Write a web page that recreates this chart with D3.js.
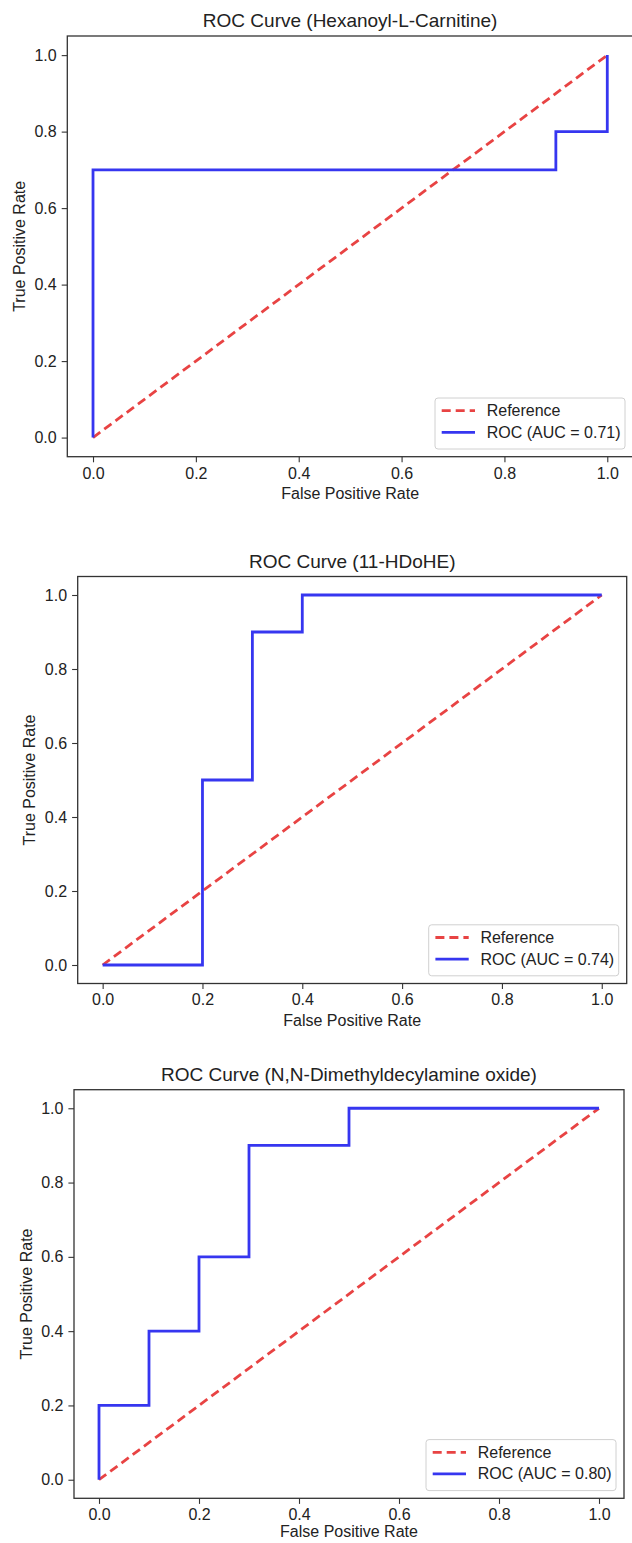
<!DOCTYPE html>
<html>
<head>
<meta charset="utf-8">
<script src="https://cdn.jsdelivr.net/npm/d3@7"></script>
<style>
  body { margin: 0; background: #fff; }
  svg { display: block; }
  text { font-family: "Liberation Sans", Arial, Helvetica, sans-serif; fill: #222; }
</style>
</head>
<body>
<div id="chart"></div>
<script>
// ROC data
var titles = ["ROC Curve (Hexanoyl-L-Carnitine)", "ROC Curve (11-HDoHE)", "ROC Curve (N,N-Dimethyldecylamine oxide)"];
var aucLabels = ["ROC (AUC = 0.71)", "ROC (AUC = 0.74)", "ROC (AUC = 0.80)"];

var fpr1 = [0, 0, 0.9, 0.9, 1.0, 1.0];
var tpr1 = [0, 0.7, 0.7, 0.8, 0.8, 1.0];

var fpr2 = [0, 0.2, 0.2, 0.3, 0.3, 0.4, 0.4, 1.0];
var tpr2 = [0, 0, 0.5, 0.5, 0.9, 0.9, 1.0, 1.0];

var fpr3 = [0, 0, 0.1, 0.1, 0.2, 0.2, 0.3, 0.3, 0.5, 0.5, 1.0];
var tpr3 = [0, 0.2, 0.2, 0.4, 0.4, 0.6, 0.6, 0.9, 0.9, 1.0, 1.0];

var refLine = [0, 1];
var tickVals = [0, 0.2, 0.4, 0.6, 0.8, 1.0];

// pixel boxes of each axes area (left, right, top, bottom)
var boxes = [
  {l: 67.3, r: 633, t: 36, b: 456.7},
  {l: 77.7, r: 626.7, t: 576.5, b: 983.5},
  {l: 74, r: 624, t: 1089.7, b: 1498.3}
];
var ylabX = [20, 30, 27];

var W = 632, H = 1543;
var svg = d3.select("#chart").append("svg").attr("width", W).attr("height", H);

var blue = "#3636f0", red = "#e84343";

function drawPanel(i, fpr, tpr) {
  var bx = boxes[i];
  var x = d3.scaleLinear().domain([-0.05, 1.05]).range([bx.l, bx.r]);
  var y = d3.scaleLinear().domain([-0.05, 1.05]).range([bx.b, bx.t]);
  var g = svg.append("g").attr("class", "panel" + i);

  // curves
  var line = d3.line().x(function(d) { return x(d[0]); }).y(function(d) { return y(d[1]); });
  g.append("path").datum(refLine.map(function(v) { return [v, v]; }))
    .attr("d", line).attr("fill", "none").attr("stroke", red)
    .attr("stroke-width", 2.8).attr("stroke-dasharray", "9,5");
  g.append("path").datum(fpr.map(function(v, k) { return [v, tpr[k]]; }))
    .attr("d", line).attr("fill", "none").attr("stroke", blue)
    .attr("stroke-width", 2.8).attr("stroke-linejoin", "miter");

  // axes
  var xa = g.append("g").attr("transform", "translate(0," + bx.b + ")")
    .call(d3.axisBottom(x).tickValues(tickVals).tickFormat(d3.format(".1f")).tickSizeOuter(0).tickSize(5.6).tickPadding(5));
  var ya = g.append("g").attr("transform", "translate(" + bx.l + ",0)")
    .call(d3.axisLeft(y).tickValues(tickVals).tickFormat(d3.format(".1f")).tickSizeOuter(0).tickSize(5.6).tickPadding(5));
  [xa, ya].forEach(function(a) {
    a.select(".domain").remove();
    a.selectAll(".tick line").attr("stroke", "#333").attr("stroke-width", 1.1);
    a.selectAll(".tick text").style("font-size", "16px").attr("fill", "#222")
      .style("font-family", '"Liberation Sans", Arial, sans-serif');
  });

  g.append("rect").attr("x", bx.l).attr("y", bx.t).attr("width", bx.r - bx.l).attr("height", bx.b - bx.t)
    .attr("fill", "none").attr("stroke", "#333").attr("stroke-width", 1.3);

  // labels
  g.append("text").attr("x", (bx.l + bx.r) / 2).attr("y", bx.t - 9).attr("text-anchor", "middle")
    .style("font-size", "19px").text(titles[i]);
  g.append("text").attr("x", (bx.l + bx.r) / 2).attr("y", Math.min(bx.b + 42, H - 6)).attr("text-anchor", "middle")
    .style("font-size", "16px").text("False Positive Rate");
  g.append("text").attr("transform", "translate(" + (ylabX[i] + 5) + "," + ((bx.t + bx.b) / 2) + ") rotate(-90)")
    .attr("text-anchor", "middle").style("font-size", "16px").text("True Positive Rate");

  // legend, lower right
  var lw = 190, lh = 51;
  var lx = bx.r - 8 - lw, ly = bx.b - 7.7 - lh;
  var leg = g.append("g").attr("transform", "translate(" + lx + "," + ly + ")");
  leg.append("rect").attr("width", lw).attr("height", lh).attr("rx", 3)
    .attr("fill", "rgba(255,255,255,0.85)").attr("stroke", "#d0d0d0").attr("stroke-width", 1);
  var items = [{label: "Reference", color: red, dash: "9,5"}, {label: aucLabels[i], color: blue, dash: null}];
  items.forEach(function(it, k) {
    var yy = 12.7 + k * 21.6;
    leg.append("line").attr("x1", 6.7).attr("x2", 40).attr("y1", yy).attr("y2", yy)
      .attr("stroke", it.color).attr("stroke-width", 2.8).attr("stroke-dasharray", it.dash);
    leg.append("text").attr("x", 51.7).attr("y", yy + 5.6).style("font-size", "16px").text(it.label);
  });
}

drawPanel(0, fpr1, tpr1);
drawPanel(1, fpr2, tpr2);
drawPanel(2, fpr3, tpr3);
</script>
</body>
</html>
